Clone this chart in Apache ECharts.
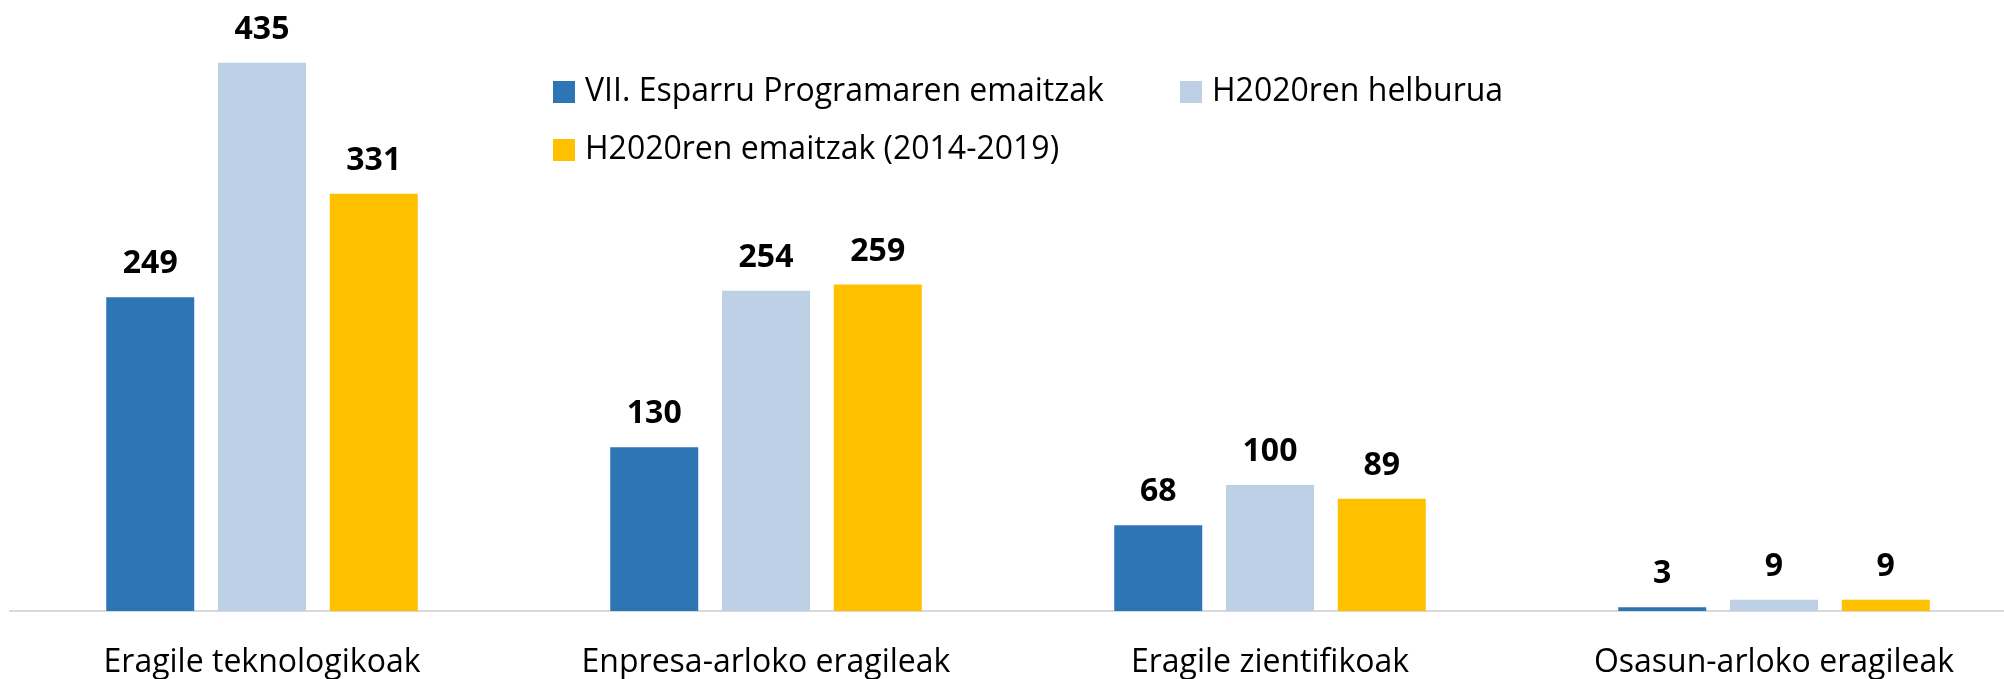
<!DOCTYPE html>
<html>
<head>
<meta charset="utf-8">
<script src="https://cdn.jsdelivr.net/npm/echarts@6/dist/echarts.min.js"></script>
<style>
  html, body { margin: 0; padding: 0; background: #fff; }
  #chart { width: 2004px; height: 679px; }
</style>
</head>
<body>
<div id="chart"></div>
<script>
// kategoriak eta balioak
var categories = ['Eragile teknologikoak', 'Enpresa-arloko eragileak', 'Eragile zientifikoak', 'Osasun-arloko eragileak'];
var seriesNames = ['VII. Esparru Programaren emaitzak', 'H2020ren helburua', 'H2020ren emaitzak (2014-2019)'];
var fp7Values = [249, 130, 68, 3];
var h2020Goal = [435, 254, 100, 9];
var h2020Results = [331, 259, 89, 9];
var colors = ['#2E75B6', '#BDD0E5', '#FFC000'];

var fontFam = '"Open Sans", "Noto Sans", sans-serif';

function legendItem(name, left, top) {
	return {
		left : left,
		top : top,
		data : [ name ],
		itemWidth : 22,
		itemHeight : 22,
		icon : 'rect',
		selectedMode : false,
		textStyle : {
			fontFamily : fontFam,
			fontSize : 32,
			color : '#000',
			padding : [ 0, 0, 0, 5 ]
		}
	};
}

function barSeries(idx, values) {
	return {
		name : seriesNames[idx],
		type : 'bar',
		barWidth : 88,
		barGap : '27%',
		itemStyle : { color : colors[idx] },
		label : {
			show : true,
			position : 'top',
			distance : 17,
			fontFamily : fontFam,
			fontWeight : 'bold',
			fontSize : 32,
			color : '#000'
		},
		data : values
	};
}

var myChart = echarts.init(document.getElementById('chart'));
var option = {
	animation : false,
	backgroundColor : '#fff',
	legend : [
		legendItem(seriesNames[0], 548, 71),
		legendItem(seriesNames[1], 1175, 71),
		legendItem(seriesNames[2], 548, 129)
	],
	grid : {
		left : 10,
		width : 2016,
		top : 6,
		bottom : 68,
		containLabel : false,
		outerBoundsMode : 'none'
	},
	xAxis : {
		type : 'category',
		data : categories,
		axisLine : { lineStyle : { color : '#D9D9D9', width : 2 } },
		axisTick : { show : false },
		axisLabel : {
			margin : 36,
			fontFamily : fontFam,
			fontSize : 32,
			color : '#000'
		}
	},
	yAxis : {
		type : 'value',
		min : 0,
		max : 480,
		show : false,
		splitLine : { show : false }
	},
	series : [
		barSeries(0, fp7Values),
		barSeries(1, h2020Goal),
		barSeries(2, h2020Results)
	]
};
myChart.setOption(option);
</script>
</body>
</html>
